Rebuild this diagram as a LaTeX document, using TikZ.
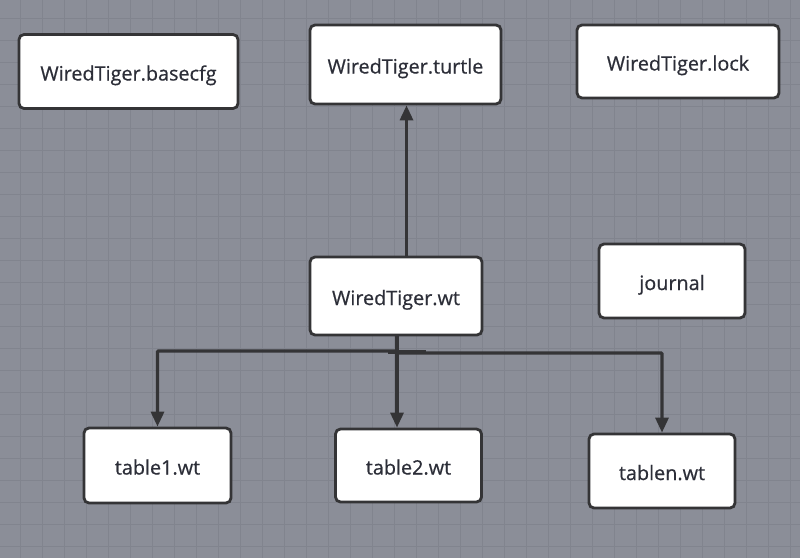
\documentclass[tikz,border=0pt]{standalone}
\usepackage{fontspec}
\setmainfont[FakeBold=0.6]{Open Sans}
\usetikzlibrary{arrows.meta}
\definecolor{bgc}{RGB}{139,142,152}
\definecolor{gridc}{RGB}{129,132,142}
\definecolor{linec}{RGB}{52,52,54}
\definecolor{txtc}{RGB}{44,46,56}
\tikzset{
  box/.style={draw=linec, line width=2.8pt, fill=white, rounded corners=5pt,
    inner sep=0pt, font=\fontsize{19.8}{21}\selectfont, text=txtc,
    text height=18pt, text depth=0pt},
  conn/.style={draw=linec, line width=3.2pt, -{Triangle[length=15pt,width=13pt]}},
  plain/.style={draw=linec, line width=3.2pt}
}
\begin{document}
\begin{tikzpicture}[x=1pt,y=-1pt]
\fill[bgc] (0,0) rectangle (800,558);
\useasboundingbox (0,0) rectangle (800,558);
\foreach \i in {0,...,36} \draw[gridc, line width=0.8pt] (20+22*\i,0) -- (20+22*\i,558);
\foreach \j in {0,...,25} \draw[gridc, line width=0.8pt] (0,-3.3+22*\j) -- (800,-3.3+22*\j);

\node[box, minimum width=219pt, minimum height=74pt] (basecfg) at (128.5,71.5) {WiredTiger.basecfg};
\node[box, minimum width=191pt, minimum height=79pt] (turtle) at (405.5,64.5) {WiredTiger.turtle};
\node[box, minimum width=202pt, minimum height=73pt] (lock) at (678,61.5) {WiredTiger.lock};
\node[box, minimum width=172pt, minimum height=78pt] (wt) at (396,296) {WiredTiger.wt};
\node[box, minimum width=146pt, minimum height=74pt] (journal) at (672,281) {journal};
\node[box, minimum width=147pt, minimum height=75pt] (t1) at (157.5,465.5) {table1.wt};
\node[box, minimum width=146pt, minimum height=73pt] (t2) at (408.5,465.5) {table2.wt};
\node[box, minimum width=146pt, minimum height=74pt] (tn) at (662,471) {tablen.wt};

\coordinate (up) at (406.5,296);
\coordinate (dn) at (397,296);
\coordinate (jl) at (397,351);
\coordinate (jr) at (397,353);
\coordinate (c1) at (157.5,351);
\coordinate (cn) at (662,353);

\draw[conn] (up |- wt.north) -- (up |- turtle.south);
\draw[conn] (dn |- wt.south) -- (dn |- t2.north);
\draw[conn, rounded corners=1pt] (dn |- wt.south) -- (jl) -- (c1) -- (t1.north);
\draw[conn, rounded corners=1pt] (dn |- wt.south) -- (jr) -- (cn) -- (tn.north);
\draw[plain, line width=4.2pt] (388,352) -- (426,352);
\end{tikzpicture}
\end{document}
